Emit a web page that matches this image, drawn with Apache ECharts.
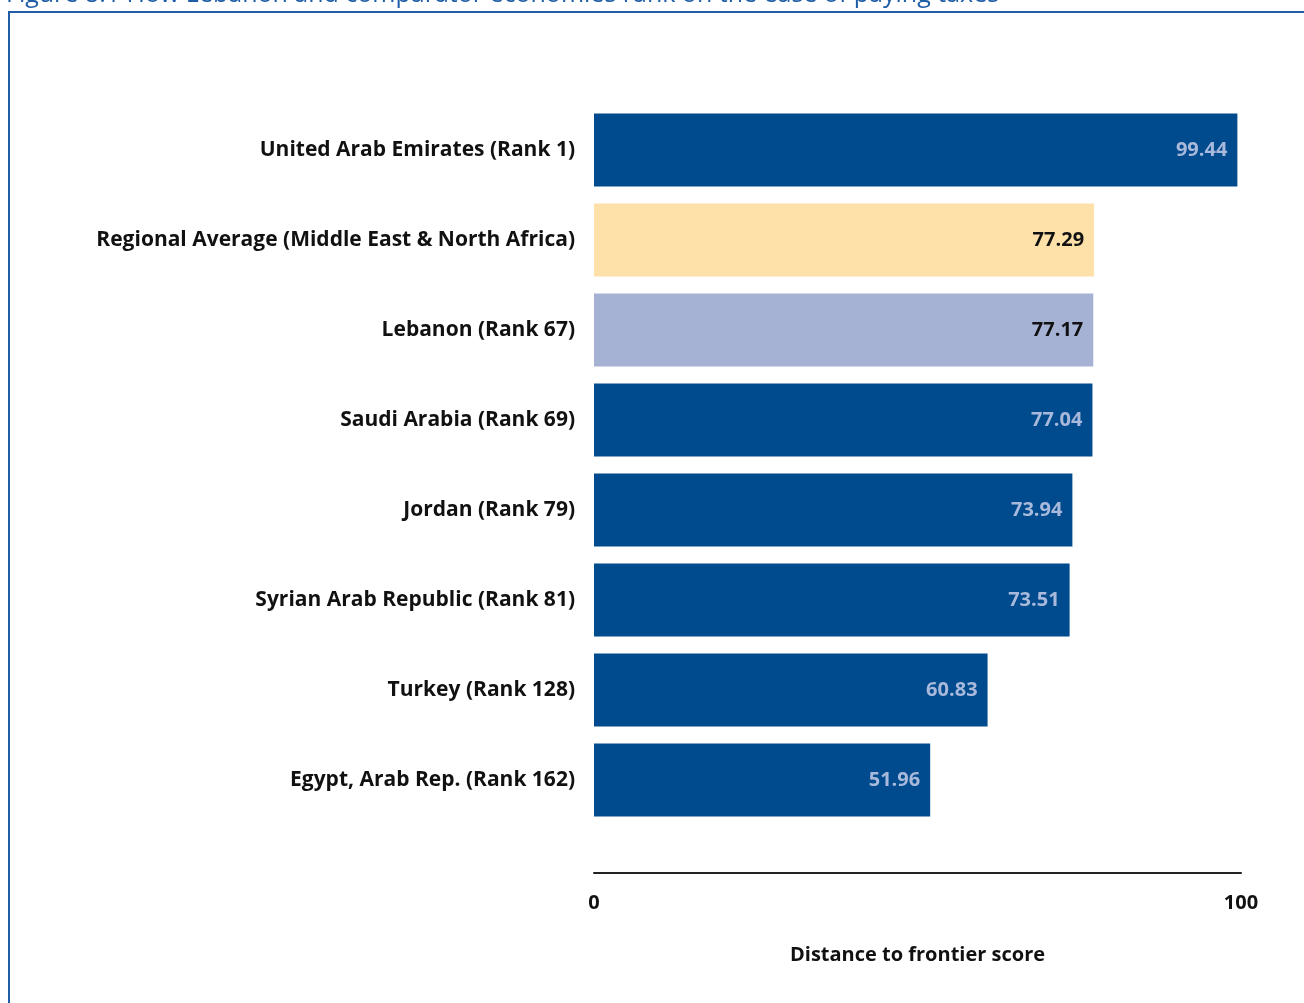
<!DOCTYPE html>
<html>
<head>
<meta charset="utf-8">
<script src="https://cdn.jsdelivr.net/npm/echarts@6/dist/echarts.min.js"></script>
<style>
  html, body { margin: 0; padding: 0; background: #fff; }
  #chart { width: 1304px; height: 1003px; }
</style>
</head>
<body>
<div id="chart"></div>
<script>
// economies, top to bottom
const economies = [
  'United Arab Emirates (Rank 1)',
  'Regional Average (Middle East & North Africa)',
  'Lebanon (Rank 67)',
  'Saudi Arabia (Rank 69)',
  'Jordan (Rank 79)',
  'Syrian Arab Republic (Rank 81)',
  'Turkey (Rank 128)',
  'Egypt, Arab Rep. (Rank 162)'
];
const scores = [99.44, 77.29, 77.17, 77.04, 73.94, 73.51, 60.83, 51.96];
const xTicks = [0, 100];

const DARK = '#004b8d';
const barColors = { 1: '#fee0a9', 2: '#a5b2d4' };

const chart = echarts.init(document.getElementById('chart'), null, { renderer: 'canvas' });

const font = '"Open Sans", "Noto Sans", sans-serif';

chart.setOption({
  animation: false,
  textStyle: { fontFamily: font },
  graphic: [
    {
      type: 'text',
      left: 6,
      top: -18,
      style: {
        text: 'Figure 8.1 How Lebanon and comparator economies rank on the ease of paying taxes',
        fill: '#1f5ea6',
        font: '25px ' + font
      }
    },
    {
      type: 'rect',
      shape: { x: 9, y: 12, width: 1400, height: 1100 },
      style: { fill: null, stroke: '#1f5ea6', lineWidth: 2 }
    }
  ],
  grid: { left: 594, right: 63, top: 105, height: 720, containLabel: false },
  xAxis: {
    type: 'value',
    min: xTicks[0],
    max: xTicks[1],
    interval: 100,
    offset: 48,
    splitLine: { show: false },
    axisTick: { show: false },
    axisLine: { show: true, lineStyle: { color: '#222', width: 2 } },
    axisLabel: { color: '#111', fontWeight: 'bold', fontSize: 20, margin: 20, fontFamily: font },
    name: 'Distance to frontier score',
    nameLocation: 'middle',
    nameGap: 72,
    nameTextStyle: { color: '#111', fontWeight: 'bold', fontSize: 20, fontFamily: font }
  },
  yAxis: {
    type: 'category',
    inverse: true,
    data: economies,
    axisLine: { show: false },
    axisTick: { show: false },
    axisLabel: { color: '#111', fontWeight: 'bold', fontSize: 21, margin: 19, fontFamily: font }
  },
  series: [{
    type: 'bar',
    barCategoryGap: '19%',
    data: scores.map((v, i) => ({
      value: v,
      itemStyle: { color: barColors[i] || DARK },
      label: { color: barColors[i] ? '#111' : '#a9b9dc' }
    })),
    label: {
      show: true,
      position: 'insideRight',
      distance: 10,
      fontWeight: 'bold',
      fontSize: 20,
      fontFamily: font,
      formatter: p => p.value.toFixed(2)
    }
  }]
});
</script>
</body>
</html>
